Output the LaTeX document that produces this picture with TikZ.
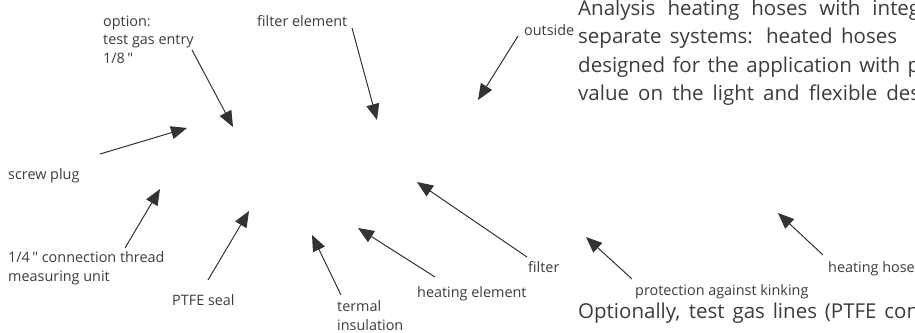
\documentclass[tikz,border=0pt]{standalone}
\usepackage{fontspec}
\setmainfont{Open Sans}[Ligatures=TeXOff]
\usetikzlibrary{arrows.meta}
\definecolor{inkgray}{HTML}{3C3C3C}
\definecolor{arrowgray}{HTML}{333333}

\begin{document}
\begin{tikzpicture}[x=1pt,y=-1pt,
	lbl/.style={inner sep=0, text=inkgray, anchor=base west, align=left, font=\fontsize{14.4}{18.5}\selectfont},
	para/.style={inner sep=0, text=inkgray, anchor=base west, font=\fontsize{20.5}{28}\selectfont},
	pointer/.style={draw=arrowgray, line width=1pt, -{Triangle[length=16pt,width=13pt]}}]
	\useasboundingbox (0,0) rectangle (915,332);
	\clip (0,0) rectangle (915,332);

	\node[lbl] (gasLbl) at (103,63) {option:\\test gas entry\\1/8\,"};
	\node[lbl] (elemLbl) at (257,26) {filter element};
	\node[lbl] (outLbl) at (524,35) {outside};
	\node[lbl] (plugLbl) at (8,179) {screw plug};
	\node[lbl] (threadLbl) at (8,281) {1/4\," connection thread\\measuring unit};
	\node[lbl] (sealLbl) at (172,305) {PTFE seal};
	\node[lbl] (insLbl) at (337,330) {termal\\insulation};
	\node[lbl] (helemLbl) at (417,297) {heating element};
	\node[lbl] (filtLbl) at (528,272) {filter};
	\node[lbl] (kinkLbl) at (635,295) {protection against kinking};
	\node[lbl] (hoseLbl) at (828,272) {heating hose};

	\node[para] (paraA) at (578,15) {\hbox to 342pt{Analysis heating hoses with integ}};
	\node[para] (paraB) at (578,43.5) {\hbox to 319pt{separate systems: heated hoses}};
	\node[para] (paraC) at (578,72) {\hbox to 342pt{designed for the application with p}};
	\node[para] (paraD) at (578,100.5) {\hbox to 342pt{value on the light and flexible des}};
	\node[para] (optLine) at (578,318) {\hbox to 341pt{Optionally, test gas lines (PTFE con}};

	\coordinate (gasTip) at (233,127);
	\coordinate (elemTip) at (377,120);
	\coordinate (outTip) at (478,100);
	\coordinate (plugTip) at (187,128);
	\coordinate (threadTip) at (160,189);
	\coordinate (sealTip) at (249,211);
	\coordinate (insTip) at (312,235);
	\coordinate (helemTip) at (358,228);
	\coordinate (filtTip) at (417,182);
	\coordinate (kinkTip) at (586,237);
	\coordinate (hoseTip) at (778,213);

	\draw[pointer] ([shift={(89,-13)}]gasLbl.base west) -- (gasTip);
	\draw[pointer] ([shift={(95,2)}]elemLbl.base west) -- (elemTip);
	\draw[pointer] ([shift={(-6,1)}]outLbl.base west) -- (outTip);
	\draw[pointer] ([shift={(92,-25)}]plugLbl.base west) -- (plugTip);
	\draw[pointer] ([shift={(117,-33)}]threadLbl.base west) -- (threadTip);
	\draw[pointer] ([shift={(36,-25)}]sealLbl.base west) -- (sealTip);
	\draw[pointer] ([shift={(4,-35)}]insLbl.base west) -- (insTip);
	\draw[pointer] ([shift={(18,-20)}]helemLbl.base west) -- (helemTip);
	\draw[pointer] ([shift={(-1,-15)}]filtLbl.base west) -- (filtTip);
	\draw[pointer] ([shift={(-3,-16)}]kinkLbl.base west) -- (kinkTip);
	\draw[pointer] ([shift={(-5,-17)}]hoseLbl.base west) -- (hoseTip);
\end{tikzpicture}
\end{document}
